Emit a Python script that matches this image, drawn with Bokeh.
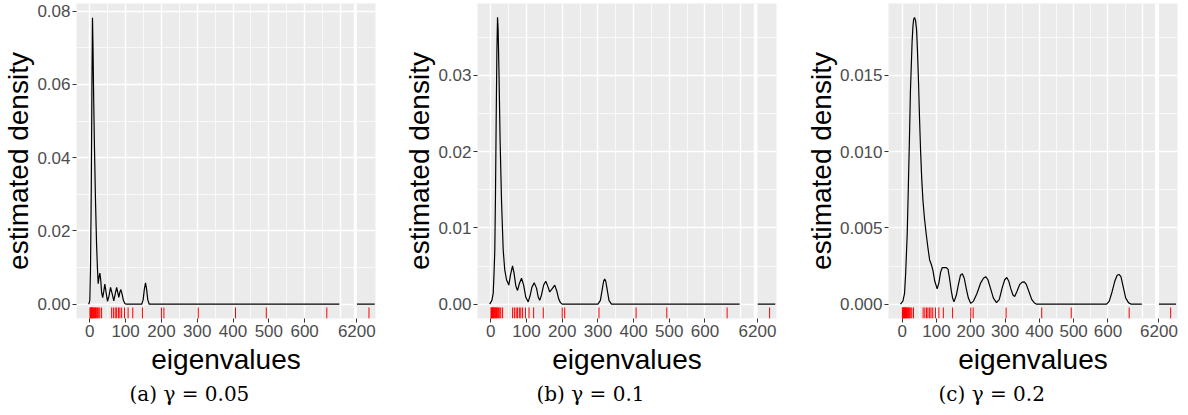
from bokeh.plotting import figure
from bokeh.layouts import row
from bokeh.models import Range1d, FixedTicker, BoxAnnotation, Title
from bokeh.embed import file_html
from bokeh.resources import INLINE

# ---------------- data ----------------
# eigenvalues shown as rug (same in all three panels)
eigenvalues = [0.5, 1.5, 2.5, 3.5, 4.5, 5.5, 6.5, 8, 9.5, 11, 12.5, 14, 16, 18, 20, 22, 25, 28, 33,
               61, 66, 71, 75, 80, 84, 89, 97, 107, 120, 147, 200, 207, 303, 407, 493, 662, 6234]

x_ticks = [0, 100, 200, 300, 400, 500, 600]
x_tick_labels = ["0", "100", "200", "300", "400", "500", "600"]
x_grid_major = [0, 100, 200, 300, 400, 500, 600, 700]
x_grid_minor = [50, 150, 250, 350, 450, 550, 650]
break_value = 6200
break_tick_label = "6200"
right_x = [6200, 6250]
right_y = [0, 0]

# (a) gamma = 0.05
dens_x_a = [-3, 0, 2, 4, 6, 7.5, 9, 11, 13, 16, 19, 21.5, 23.4, 25.5, 28, 30.5, 33, 36, 39, 42, 45.5,
            49.4, 53.5, 58, 62.5, 67, 71, 75, 78.5, 81, 84, 86.6, 90, 94, 98, 102, 145, 149, 152.5,
            155.6, 158.5, 162, 166, 697]
dens_y_a = [0, 0.001, 0.01, 0.03, 0.06, 0.0782, 0.07, 0.055, 0.043, 0.028, 0.016, 0.0095, 0.0056,
            0.0072, 0.0085, 0.0066, 0.0032, 0.0018, 0.0035, 0.0055, 0.0032, 0.0008, 0.0022, 0.0046,
            0.0028, 0.0009, 0.0028, 0.0046, 0.003, 0.0019, 0.0033, 0.004, 0.0028, 0.001, 0.0002, 0,
            0, 0.0012, 0.0042, 0.0058, 0.0042, 0.0012, 0, 0]
y_ticks_a = [0, 0.02, 0.04, 0.06, 0.08]
y_labels_a = ["0.00", "0.02", "0.04", "0.06", "0.08"]
y_minor_a = [0.01, 0.03, 0.05, 0.07]

# (b) gamma = 0.1
dens_x_b = [-3, 3, 6.7, 9, 11.2, 13, 15, 17, 18.8, 20.5, 23, 26, 30, 34.7, 39, 44, 50.4, 55, 60.8, 65,
            70, 74.8, 80, 86, 92, 98, 104.7, 110, 115, 121.5, 128, 133, 137, 142, 148, 154, 160, 165,
            170, 179, 185, 190, 195, 200, 300, 307, 312, 316, 319, 322, 326, 331, 338, 697]
dens_y_b = [0, 0.0005, 0.0014, 0.004, 0.0071, 0.014, 0.024, 0.033, 0.0376, 0.036, 0.03, 0.0215,
            0.0135, 0.0071, 0.0045, 0.0032, 0.0025, 0.0038, 0.005, 0.0041, 0.0024, 0.0018, 0.0027,
            0.0034, 0.0025, 0.0009, 0.0003, 0.0011, 0.0022, 0.0028, 0.0021, 0.0009, 0.0005, 0.0012,
            0.0025, 0.003, 0.0023, 0.0016, 0.0019, 0.0025, 0.0017, 0.0007, 0.0002, 0, 0, 0.0005,
            0.0019, 0.003, 0.0033, 0.003, 0.0019, 0.0005, 0, 0]
y_ticks_b = [0, 0.01, 0.02, 0.03]
y_labels_b = ["0.00", "0.01", "0.02", "0.03"]
y_minor_b = [0.005, 0.015, 0.025, 0.035]

# (c) gamma = 0.2
dens_x_c = [-5, 2, 6.8, 10, 14.6, 18, 21.4, 24, 26.3, 28.8, 31.2, 33.5, 36, 39, 41.9, 44.5, 47.7,
            50.5, 53.5, 57, 60.5, 65, 70, 75, 80, 85, 89.7, 95, 102, 107, 112, 117, 122, 128, 133.6,
            138, 143, 147, 151, 158, 164, 170, 175.4, 181, 187, 193, 200, 208, 218, 229, 237, 243.6,
            250, 258, 266, 275, 283, 292, 299, 305, 311, 317, 323, 328, 334, 343, 350, 356, 362, 370,
            378, 385, 392, 596, 604, 612, 620, 627, 632.5, 638, 645, 652, 660, 668, 699]
dens_y_c = [0, 0.0002, 0.0007, 0.002, 0.0046, 0.0078, 0.0112, 0.014, 0.0155, 0.0172, 0.0182, 0.0187,
            0.0188, 0.0186, 0.018, 0.0166, 0.0145, 0.0122, 0.0101, 0.0082, 0.0068, 0.0056, 0.0046,
            0.0037, 0.0029, 0.0026, 0.0022, 0.0015, 0.001, 0.0014, 0.0021, 0.0024, 0.0024, 0.0024,
            0.0023, 0.0017, 0.0009, 0.0004, 0.00015, 0.0006, 0.0013, 0.0019, 0.002, 0.0017, 0.001,
            0.0004, 0.00005, 0.0002, 0.0007, 0.0014, 0.0017, 0.0018, 0.0016, 0.001, 0.0004, 0.0001,
            0.0003, 0.0011, 0.0016, 0.00175, 0.0015, 0.001, 0.0006, 0.0005, 0.0008, 0.0013, 0.00145,
            0.00146, 0.0013, 0.0008, 0.0003, 0.0001, 0, 0, 0.0002, 0.0008, 0.0015, 0.0019, 0.00195,
            0.0018, 0.0011, 0.0004, 0.0001, 0, 0]
y_ticks_c = [0, 0.005, 0.010, 0.015]
y_labels_c = ["0.000", "0.005", "0.010", "0.015"]
y_minor_c = [0.0025, 0.0075, 0.0125, 0.0175]

captions = ["(a) \u03b3 = 0.05", "(b) \u03b3 = 0.1", "(c) \u03b3 = 0.2"]

# ---------------- drawing ----------------
BG = "#EBEBEB"
SANS = "Liberation Sans"


def make_panel(xs, ys, yt, ylab, yminor, ylo, yhi, frame_w, bl, br, xlo, xhi, gap_lo, gap_hi,
               caption, cap_off):
    off = break_value - gap_hi
    w = bl + frame_w + br
    p = figure(width=w, height=415, frame_width=frame_w, frame_height=315,
               x_range=Range1d(xlo, xhi), y_range=Range1d(ylo, yhi),
               output_backend="svg", toolbar_location=None,
               min_border_left=bl, min_border_right=br, min_border_top=3, min_border_bottom=97)
    p.extra_x_ranges = {"brk": Range1d(xlo + off, xhi + off)}
    p.background_fill_color = BG
    p.border_fill_color = "white"
    p.outline_line_color = None

    # grids
    p.xgrid.ticker = FixedTicker(ticks=x_grid_major, minor_ticks=x_grid_minor)
    p.ygrid.ticker = FixedTicker(ticks=yt, minor_ticks=yminor)
    for g in (p.xgrid, p.ygrid):
        g.grid_line_color = "white"
        g.grid_line_width = 1.4
        g.minor_grid_line_color = "white"
        g.minor_grid_line_width = 0.7

    # density curve (main section and right section)
    p.line(xs, ys, line_color="black", line_width=1.2)
    p.line(right_x, right_y, line_color="black", line_width=1.2, x_range_name="brk")

    # rug
    rug_top = ylo + 0.035 * (yhi - ylo)
    main_r = [v for v in eigenvalues if v < break_value]
    brk_r = [v for v in eigenvalues if v >= break_value]
    p.segment(x0=main_r, y0=[ylo] * len(main_r), x1=main_r, y1=[rug_top] * len(main_r),
              line_color="red", line_width=1)
    p.segment(x0=brk_r, y0=[ylo] * len(brk_r), x1=brk_r, y1=[rug_top] * len(brk_r),
              line_color="red", line_width=1, x_range_name="brk")

    # gap of the broken axis
    p.add_layout(BoxAnnotation(left=gap_lo, right=gap_hi, fill_color="white", fill_alpha=1,
                               line_color=None, level="overlay"))

    # axes
    xa = p.xaxis[0]
    xa.ticker = FixedTicker(ticks=x_ticks + [gap_hi])
    ov = {t: l for t, l in zip(x_ticks, x_tick_labels)}
    ov[gap_hi] = break_tick_label
    xa.major_label_overrides = ov
    xa.axis_label = "eigenvalues"

    ya = p.yaxis[0]
    ya.ticker = FixedTicker(ticks=yt)
    ya.major_label_overrides = {t: l for t, l in zip(yt, ylab)}
    ya.axis_label = "estimated density"

    for a in (xa, ya):
        a.axis_line_color = None
        a.major_tick_line_color = "#333333"
        a.major_tick_in = 0
        a.major_tick_out = 4
        a.minor_tick_line_color = None
        a.major_label_text_font = SANS
        a.major_label_text_font_size = "17px"
        a.major_label_text_color = "#4D4D4D"
        a.major_label_standoff = 2
        a.axis_label_text_font = SANS
        a.axis_label_text_font_size = "28px"
        a.axis_label_text_font_style = "normal"
        a.axis_label_text_color = "black"
    xa.axis_label_standoff = 4
    ya.axis_label_standoff = 0

    t = Title(text=caption, align="left", offset=cap_off, text_font="DejaVu Serif",
              text_font_size="20px", text_font_style="normal", text_color="black", standoff=4)
    p.add_layout(t, "below")
    return p


pa = make_panel(dens_x_a, dens_y_a, y_ticks_a, y_labels_a, y_minor_a, -0.0039, 0.0821,
                299, 75, 26, -37.15, 798, 737.4, 745.8, captions[0], 53)
pb = make_panel(dens_x_b, dens_y_b, y_ticks_b, y_labels_b, y_minor_b, -0.00188, 0.0394,
                299, 76, 25, -37.3, 800.3, 736.7, 747, captions[1], 59)
pc = make_panel(dens_x_c, dens_y_c, y_ticks_c, y_labels_c, y_minor_c, -0.00094, 0.01972,
                289, 87, 12, -40, 803, 737.4, 749, captions[2], 50)

layout = row(pa, pb, pc)
open("out.html", "w").write(file_html(layout, INLINE))
